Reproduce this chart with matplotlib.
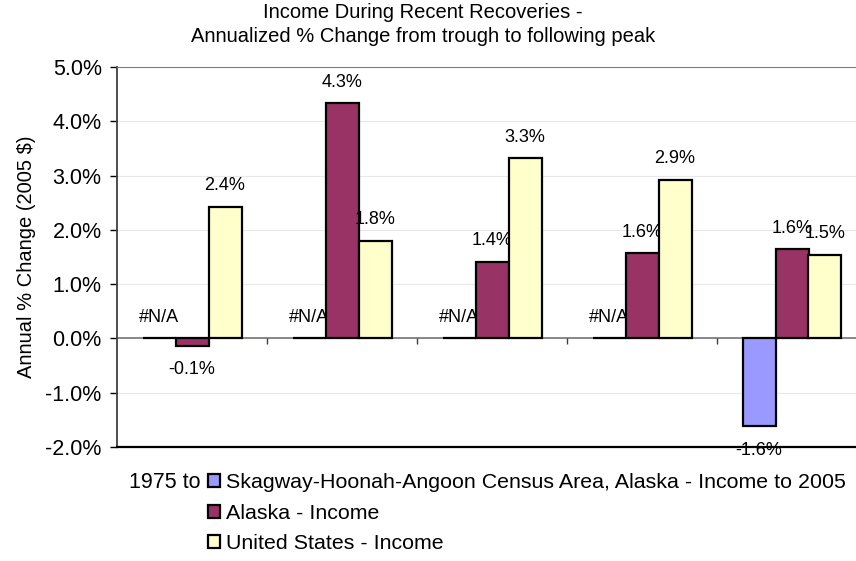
import matplotlib
matplotlib.use('Agg')
import matplotlib.pyplot as plt
import numpy as np

plt.rcParams['font.family'] = ['Liberation Sans', 'DejaVu Sans']

# data (annual % change, 2005 $); nan = #N/A
periods = ['1975 to 1979', '1980 to 1981', '1982 to 1990', '1991 to 2000', '2001 to 2007']
skagway = [np.nan, np.nan, np.nan, np.nan, -1.62]
alaska = [-0.14, 4.33, 1.41, 1.57, 1.64]
us = [2.43, 1.80, 3.32, 2.92, 1.54]

series_names = ['Skagway-Hoonah-Angoon Census Area, Alaska - Income to 2005',
                'Alaska - Income',
                'United States - Income']
colors = ['#9999FF', '#993366', '#FFFFCC']

fig = plt.figure(figsize=(8.56, 5.61), dpi=100)
ax = fig.add_axes([117/856, 1-447/561, 750/856, 380/561])

x = np.arange(len(periods))
w = 0.22
handles = []
for i, (vals, name, c) in enumerate(zip([skagway, alaska, us], series_names, colors)):
    pos = x + (i - 1) * w
    v = np.array(vals)
    b = ax.bar(pos, np.nan_to_num(v), w, color=c, edgecolor='black', lw=1.6,
               label=name, zorder=3)
    handles.append(b)
    for p, val in zip(pos, v):
        if np.isnan(val):
            ax.annotate('#N/A', (p, 0), xytext=(0, 9), textcoords='offset points',
                        ha='center', va='bottom', fontsize=13)
        elif val >= 0:
            ax.annotate('%.1f%%' % val, (p, val), xytext=(0, 9), textcoords='offset points',
                        ha='center', va='bottom', fontsize=13)
        else:
            ax.annotate('%.1f%%' % val, (p, val), xytext=(0, -11), textcoords='offset points',
                        ha='center', va='top', fontsize=13)

ax.set_xlim(-0.5, len(periods) - 0.5)
ax.set_ylim(-2, 5)
ax.set_yticks(np.arange(-2, 5.01, 1))
ax.set_yticklabels(['%.1f%%' % t for t in np.arange(-2, 5.01, 1)])
ax.yaxis.grid(True, color='#e8e8e8', lw=0.8, zorder=0)
ax.set_axisbelow(True)

# category axis crosses at zero
ax.axhline(0, color='#7f7f7f', lw=1.3, zorder=2)
bounds = x[:-1] + 0.5
ax.vlines(bounds, -0.1, 0, color='#404040', lw=1.0, zorder=2)

# in the original the legend covers the category labels; only the
# start of the first one shows
ax.set_xticks(x)
ax.set_xticklabels([periods[0]] + [''] * (len(periods) - 1))
ax.tick_params(axis='x', length=0, pad=18, labelsize=15.5)
ax.tick_params(axis='y', length=5, width=1, labelsize=15.5, direction='out', pad=6)

ax.spines['right'].set_visible(False)
ax.spines['top'].set_color('#7f7f7f')
ax.spines['left'].set_color('#404040')
ax.spines['left'].set_linewidth(1.3)
ax.spines['bottom'].set_color('black')
ax.spines['bottom'].set_linewidth(1.6)

ax.set_ylabel('Annual % Change (2005 $)', fontsize=14.5, labelpad=7)

fig.text(0.494, 1-13/561, 'Income During Recent Recoveries -', ha='center', va='center', fontsize=14.5)
fig.text(0.494, 1-36/561, 'Annualized % Change from trough to following peak', ha='center', va='center', fontsize=14.5)

leg = fig.legend(handles=handles, loc='upper left', bbox_to_anchor=(208/856, 1-473.5/561),
                 fontsize=15.4, frameon=True, facecolor='white', edgecolor='none', framealpha=1,
                 handlelength=0.56, handleheight=0.56, handletextpad=0.3, labelspacing=0.52,
                 borderpad=0, borderaxespad=0, fancybox=False)
leg.get_frame().set_boxstyle('square', pad=0.35)

fig.savefig('out.png', dpi=100)
